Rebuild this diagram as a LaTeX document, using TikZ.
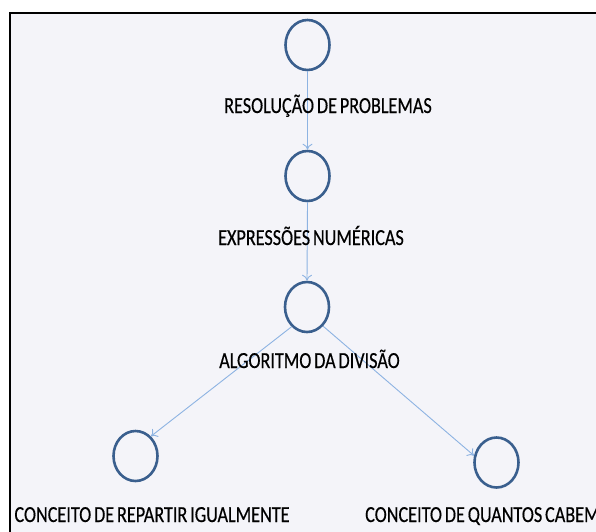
\documentclass[tikz,border=0pt]{standalone}
\usepackage{fontspec}
\setmainfont{Carlito}[FakeStretch=0.79, WordSpace=0.7, FakeBold=0.4]
\usetikzlibrary{arrows.meta}
\usetikzlibrary{shapes.geometric}
\definecolor{ringblue}{HTML}{3A5F8E}
\definecolor{linkblue}{HTML}{8DB3E2}
\definecolor{sheet}{HTML}{F4F4F9}
\tikzset{ring/.style = {draw=ringblue, line width=2.6, ellipse, inner sep=0,
                        minimum width=44, minimum height=50}}
\tikzset{link/.style = {draw=linkblue, line width=0.9, -{To[length=6, width=10]}}}
\tikzset{topic/.style = {font=\fontsize{23}{27}\selectfont, anchor=base, inner sep=0}}

\begin{document}
\begin{tikzpicture}[x=1pt, y=-1pt]
      \useasboundingbox (0, 0) rectangle (596, 531);
      \clip (0, 0) rectangle (596, 531);
      \fill [white] (0, 0) rectangle (596, 531);
      \fill [sheet] (10, 12.7) rectangle (600, 540);
      \draw [line width=2.2] (10, 540) -- (10, 12.7) -- (600, 12.7);

      \node (res) at (307.5, 45) [ring] {};
      \node (expr) at (307.5, 176) [ring] {};
      \node (alg) at (307, 307) [ring] {};
      \node (rep) at (135.5, 456) [ring] {};
      \node (qua) at (496.5, 462.5) [ring] {};

      \draw [link] (res.south) -- (expr.north);
      \draw [link] (expr.south) -- (alg.north);
      \draw [link] (alg.232) -- (rep.52);
      \draw [link] (alg.-50) -- (qua.163);

      \node (resl) at (328, 113) [topic] {RESOLUÇÃO DE PROBLEMAS};
      \node (exprl) at (311, 245) [topic] {EXPRESSÕES NUMÉRICAS};
      \node (algl) at (309.5, 368) [topic] {ALGORITMO DA DIVISÃO};
      \node (repl) at (152, 522) [topic] {CONCEITO DE REPARTIR IGUALMENTE};
      \node (qual) at (365, 522) [topic, anchor=base west] {CONCEITO DE QUANTOS CABEM};
    \end{tikzpicture}
\end{document}
